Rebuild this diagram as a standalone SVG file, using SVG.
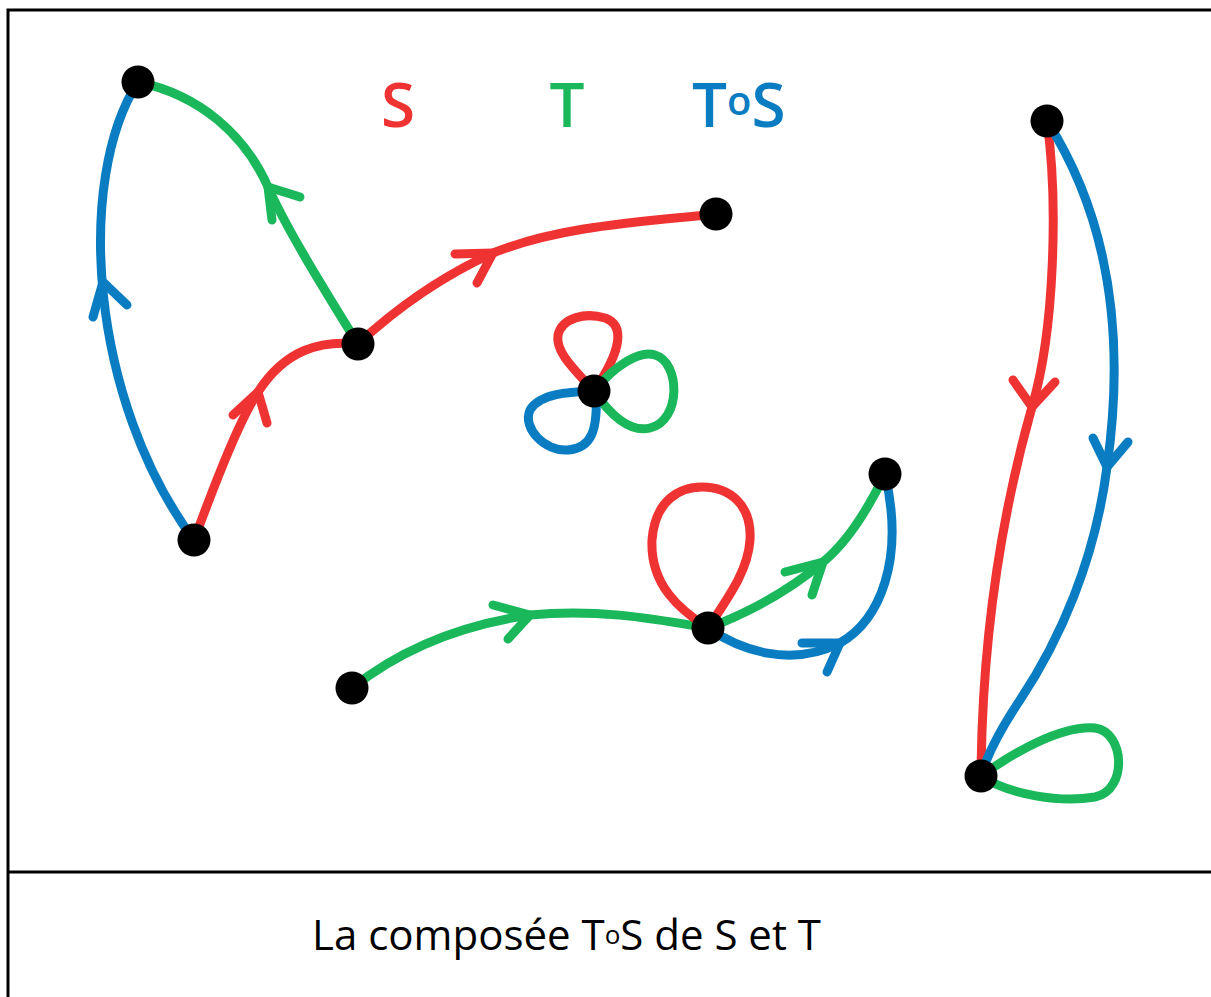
<svg xmlns="http://www.w3.org/2000/svg" width="1211" height="997" viewBox="0 0 1211 997">
  <style>
    .frame { stroke: #000; stroke-width: 3; fill: none; }
    .e { fill: none; stroke-width: 9; stroke-linecap: round; stroke-linejoin: round; }
    .r { stroke: #EF3332; }
    .g { stroke: #1AB85B; }
    .b { stroke: #0A7DC2; }
    .node { fill: #000; }
    .lbl { font-family: "Open Sans", "Liberation Sans", sans-serif; font-weight: 600; font-size: 62px; }
    .cap { font-family: "Open Sans", "Liberation Sans", sans-serif; font-size: 42px; fill: #000; }
  </style>

  <rect width="1211" height="997" fill="#fff"/>

  <!-- frame and caption separator -->
  <g id="frame">
    <path class="frame" d="M8,997 V10 H1211"/>
    <path class="frame" d="M8,872 H1211"/>
  </g>

  <!-- legend -->
  <g id="legend">
    <text class="lbl" x="398" y="127" fill="#EF3332" text-anchor="middle">S</text>
    <text class="lbl" x="567" y="127" fill="#1AB85B" text-anchor="middle">T</text>
    <text class="lbl" x="692" y="127" fill="#0A7DC2">T<tspan font-size="40" dy="-12">o</tspan><tspan dy="12">S</tspan></text>
  </g>

  <g id="connectors">
    <!-- left figure -->
    <path class="e b" d="M194,540 C90,400 75,180 138,82"/>
    <path class="e b" d="M93,317 L103,282 L127,305"/>
    <path class="e g" d="M358,344 C315,275 285,225 268,187 C245,135 200,95 138,82"/>
    <path class="e g" d="M272,220 L268,187 L300,197"/>
    <path class="e r" d="M194,540 C220,470 240,420 258,392 C285,350 320,340 358,344"/>
    <path class="e r" d="M233,415 L258,392 L267,423"/>
    <path class="e r" d="M358,344 C400,305 445,275 493,253 C560,226 640,222 716,214"/>
    <path class="e r" d="M455,254 L493,253 L477,283"/>

    <!-- clover -->
    <path class="e r" d="M594,391 C575,370 555,352 558,335 C562,318 585,312 605,318 C625,325 622,350 594,391"/>
    <path class="e g" d="M594,391 C615,365 640,350 655,355 C680,362 682,420 650,428 C630,433 610,415 594,391"/>
    <path class="e b" d="M594,391 C570,392 540,393 530,410 C522,428 545,452 568,450 C592,448 598,430 596,391"/>

    <!-- middle figure -->
    <path class="e g" d="M352,688 C400,650 460,625 530,615 C600,608 660,620 708,628"/>
    <path class="e g" d="M493,605 L530,615 L508,639"/>
    <path class="e r" d="M708,628 C680,610 650,585 652,540 C655,500 680,487 702,487 C730,487 752,505 750,540 C748,570 730,595 708,628"/>
    <path class="e g" d="M708,628 C750,612 790,590 823,562 C850,540 870,505 885,474"/>
    <path class="e g" d="M785,572 L823,562 L812,595"/>
    <path class="e b" d="M708,628 C740,650 790,668 840,643 C880,620 905,560 885,474"/>
    <path class="e b" d="M802,643 L840,643 L827,672"/>

    <!-- right figure -->
    <path class="e r" d="M1047,121 C1058,200 1055,330 1032,407 C1000,520 982,640 981,776"/>
    <path class="e r" d="M1013,380 L1032,407 L1055,382"/>
    <path class="e b" d="M1047,121 C1110,220 1125,340 1107,467 C1095,560 1060,640 1020,700 C1000,730 987,755 981,776"/>
    <path class="e b" d="M1093,438 L1107,467 L1128,442"/>
    <path class="e g" d="M981,776 C1010,755 1060,725 1095,728 C1125,732 1128,790 1095,797 C1060,803 1010,795 981,776"/>
  </g>

  <g id="nodeA"><circle class="node" cx="138" cy="82" r="16.5"/></g>
  <g id="nodeB"><circle class="node" cx="194" cy="540" r="16.5"/></g>
  <g id="nodeC"><circle class="node" cx="358" cy="344" r="16.5"/></g>
  <g id="nodeD"><circle class="node" cx="716" cy="214" r="16.5"/></g>
  <g id="nodeE"><circle class="node" cx="594" cy="391" r="16.5"/></g>
  <g id="nodeF"><circle class="node" cx="885" cy="474" r="16.5"/></g>
  <g id="nodeG"><circle class="node" cx="708" cy="628" r="16.5"/></g>
  <g id="nodeH"><circle class="node" cx="352" cy="688" r="16.5"/></g>
  <g id="nodeI"><circle class="node" cx="1047" cy="121" r="16.5"/></g>
  <g id="nodeJ"><circle class="node" cx="981" cy="776" r="16.5"/></g>

  <!-- caption -->
  <g id="caption">
    <text class="cap" x="312" y="950">La composée T<tspan font-size="26" dy="-6">o</tspan><tspan dy="6">S de S et T</tspan></text>
  </g>
</svg>
